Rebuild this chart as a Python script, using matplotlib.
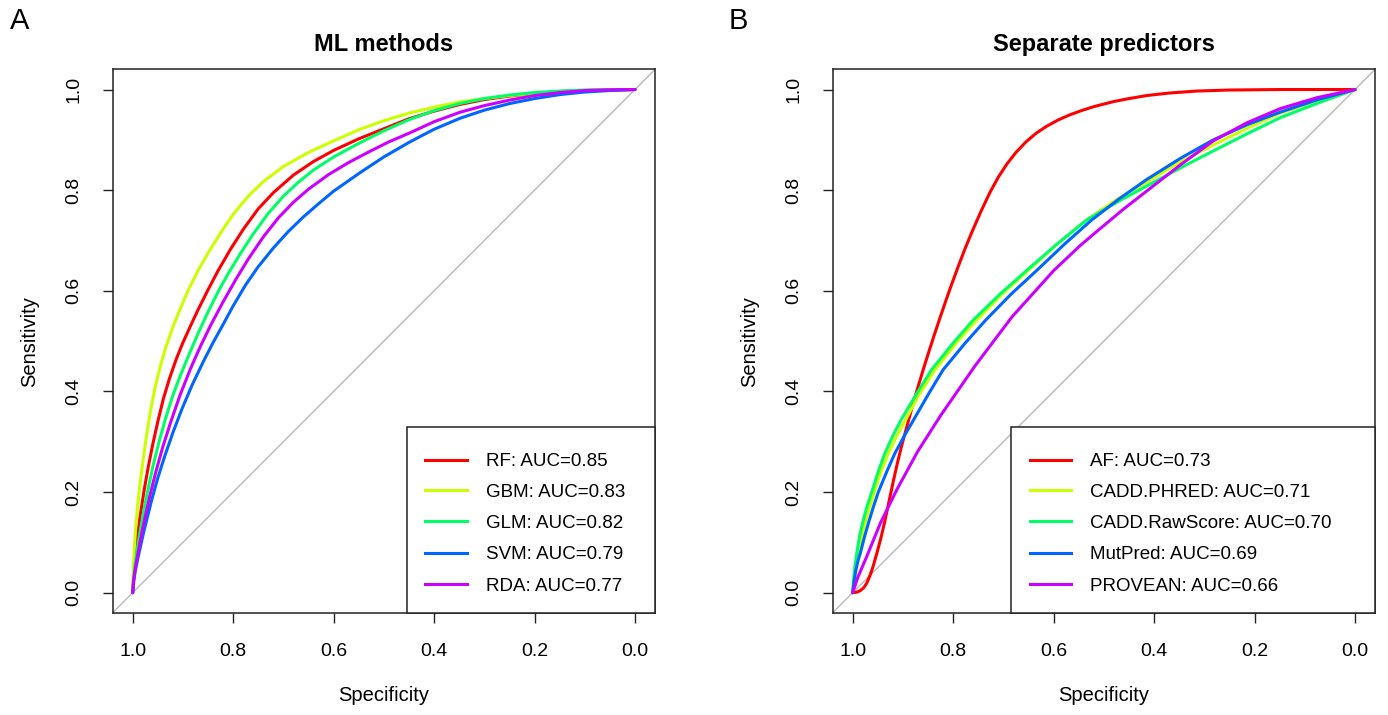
import matplotlib
matplotlib.use("Agg")
import matplotlib.pyplot as plt
import numpy as np
from matplotlib.patches import Rectangle
from matplotlib.lines import Line2D

plt.rcParams["font.family"] = ["Liberation Sans", "DejaVu Sans"]

# curves as (1 - specificity, sensitivity)

# ---- panel A: ML methods ----
rf_fpr = [0, .002, .004, .007, .011, .016, .023, .031, .040, .050, .061, .073, .087, .100, .115,
          .130, .150, .170, .195, .220, .250, .280, .320, .360, .400, .450, .500, .550, .600,
          .650, .700, .750, .800, .850, .900, .950, 1.0]
rf_sens = [0, .035, .060, .090, .125, .160, .205, .250, .295, .340, .385, .425, .465, .497, .530,
           .562, .602, .640, .683, .722, .763, .795, .830, .857, .879, .902, .922, .942, .957,
           .970, .980, .987, .992, .996, .998, .999, 1.0]

gbm_fpr = [0, .001, .003, .006, .010, .015, .021, .028, .036, .045, .055, .066, .080, .095, .110,
           .130, .150, .175, .200, .230, .260, .300, .350, .400, .450, .500, .550, .600, .650,
           .700, .750, .800, .850, .900, .950, 1.0]
gbm_sens = [0, .040, .085, .130, .175, .220, .265, .315, .365, .410, .450, .488, .528, .565, .600,
            .640, .675, .715, .752, .788, .817, .847, .875, .898, .920, .938, .953, .965, .975,
            .982, .988, .992, .995, .998, .999, 1.0]

glm_fpr = [0, .002, .005, .010, .016, .022, .030, .040, .052, .065, .080, .095, .112, .130, .150,
           .170, .190, .215, .240, .270, .300, .330, .360, .400, .450, .500, .550, .600, .650,
           .700, .750, .800, .850, .900, 1.0]
glm_sens = [0, .030, .058, .092, .128, .162, .203, .250, .298, .345, .392, .432, .473, .515, .558,
            .598, .634, .675, .713, .754, .788, .816, .840, .866, .893, .918, .940, .958, .972,
            .982, .989, .994, .997, .999, 1.0]

svm_fpr = [0, .002, .005, .009, .014, .020, .028, .038, .050, .064, .080, .098, .118, .140, .160,
           .180, .200, .225, .250, .280, .310, .340, .370, .400, .453, .500, .552, .600, .652,
           .700, .750, .800, .851, .900, .950, 1.0]
svm_sens = [0, .022, .042, .062, .085, .112, .145, .185, .228, .272, .318, .365, .412, .458, .497,
            .533, .570, .612, .648, .685, .718, .747, .773, .798, .835, .866, .896, .921, .943,
            .959, .972, .982, .990, .995, .998, 1.0]

rda_fpr = [0, .002, .005, .010, .016, .024, .034, .046, .060, .076, .094, .115, .135, .156, .180,
           .205, .230, .260, .290, .320, .350, .390, .430, .470, .510, .552, .600, .652, .700,
           .750, .800, .851, .900, .950, 1.0]
rda_sens = [0, .025, .048, .076, .108, .147, .192, .240, .290, .340, .392, .445, .490, .533, .578,
            .622, .663, .707, .745, .776, .802, .831, .855, .876, .896, .914, .936, .955, .968,
            .979, .988, .994, .998, .9995, 1.0]

ml_names = ["RF", "GBM", "GLM", "SVM", "RDA"]
ml_auc = [0.85, 0.83, 0.82, 0.79, 0.77]

# ---- panel B: separate predictors ----
af_fpr = [0, .008, .015, .022, .028, .034, .040, .048, .056, .064, .072, .081, .090, .098, .110,
          .120, .130, .140, .151, .162, .172, .185, .197, .210, .223, .237, .255, .273, .290,
          .307, .325, .345, .365, .386, .410, .433, .455, .480, .519, .550, .585, .630, .685,
          .750, .850, 1.0]
af_sens = [0, .001, .004, .010, .019, .033, .050, .078, .108, .142, .180, .222, .262, .294, .338,
           .375, .409, .442, .477, .511, .541, .579, .613, .648, .682, .716, .757, .795, .826,
           .852, .875, .896, .913, .927, .940, .950, .958, .966, .976, .982, .988, .993, .997,
           .999, 1.0, 1.0]

phred_fpr = [0, .002, .005, .011, .018, .026, .043, .056, .071, .088, .105, .133, .164, .205,
             .247, .297, .350, .407, .466, .525, .585, .650, .718, .785, .851, .925, 1.0]
phred_sens = [0, .025, .050, .078, .113, .144, .200, .240, .277, .312, .343, .395, .443, .495,
              .542, .593, .641, .693, .741, .781, .816, .855, .890, .923, .953, .978, 1.0]

raw_fpr = [0, .002, .004, .008, .014, .021, .029, .038, .051, .064, .080, .096, .127, .157, .199,
           .240, .294, .347, .407, .466, .526, .585, .652, .718, .785, .851, .926, 1.0]
raw_sens = [0, .028, .048, .078, .114, .144, .173, .200, .241, .277, .312, .343, .395, .443, .495,
            .542, .594, .641, .693, .741, .776, .808, .844, .878, .912, .944, .973, 1.0]

mut_fpr = [0, .003, .007, .011, .015, .024, .033, .042, .051, .068, .084, .103, .121, .151, .180,
           .223, .265, .316, .367, .422, .476, .531, .585, .652, .718, .785, .851, .926, 1.0]
mut_sens = [0, .025, .048, .065, .078, .113, .144, .173, .200, .241, .277, .312, .343, .395, .443,
            .495, .542, .594, .641, .693, .741, .783, .821, .863, .900, .930, .955, .980, 1.0]

prov_fpr = [0, .010, .028, .055, .088, .129, .175, .243, .317, .400, .453, .492, .540, .585, .652,
            .718, .785, .851, .925, 1.0]
prov_sens = [0, .030, .072, .138, .205, .280, .352, .450, .548, .640, .690, .723, .763, .798, .850,
             .898, .934, .962, .984, 1.0]

sep_names = ["AF", "CADD.PHRED", "CADD.RawScore", "MutPred", "PROVEAN"]
sep_auc = [0.73, 0.71, 0.70, 0.69, 0.66]

# R rainbow(5)
colors = ["#FF0000", "#CCFF00", "#00FF66", "#0066FF", "#CC00FF"]
ticks = [1.0, 0.8, 0.6, 0.4, 0.2, 0.0]

W, H = 1388, 715
fig = plt.figure(figsize=(W / 100, H / 100), dpi=100)


def roc_panel(rect, title, curves, names, aucs, leg_left, line_x, text_x):
    ax = fig.add_axes(rect)
    ax.axline((1, 0), (0, 1), color="#bdbdbd", lw=1.1, zorder=1)
    for (fpr, se), c in zip(curves, colors):
        spec = 1 - np.asarray(fpr)
        ax.plot(spec, se, color=c, lw=2.2, zorder=2, solid_capstyle="round",
                solid_joinstyle="round")
    ax.set_xlim(1.04, -0.04)
    ax.set_ylim(-0.04, 1.04)
    ax.set_xticks(ticks)
    ax.set_yticks(ticks)
    ax.set_xticklabels([f"{t:.1f}" for t in ticks])
    ax.set_yticklabels([f"{t:.1f}" for t in ticks], rotation=90, va="center")
    ax.tick_params(length=7, width=1.0, pad=15, labelsize=14, color="#222222")
    for s in ax.spines.values():
        s.set_linewidth(1.1)
        s.set_color("#222222")
    ax.set_title(title, fontsize=17, fontweight="bold", pad=13)
    ax.set_xlabel("Specificity", fontsize=14.5)
    ax.set_ylabel("Sensitivity", fontsize=14.5)
    ax.xaxis.set_label_coords(0.5, -0.135)
    ax.yaxis.set_label_coords(-0.135, 0.5)

    # legend box in the bottom-right corner, R style
    ax.add_patch(Rectangle((leg_left, 0), 1 - leg_left, 0.3412, transform=ax.transAxes,
                           facecolor="white", edgecolor="#222222", lw=1.1,
                           zorder=5, clip_on=False))
    rows = [0.2821, 0.2254, 0.1682, 0.1104, 0.0526]
    for y, c, n, a in zip(rows, colors, names, aucs):
        ax.add_line(Line2D(line_x, [y, y], transform=ax.transAxes, color=c, lw=2.2, zorder=6))
        ax.text(text_x, y, f"{n}: AUC={a:.2f}", transform=ax.transAxes, fontsize=13.5,
                va="center_baseline", ha="left", zorder=6)
    return ax


roc_panel([112.6 / W, 102.2 / H, 542.5 / W, 543.4 / H], "ML methods",
          [(rf_fpr, rf_sens), (gbm_fpr, gbm_sens), (glm_fpr, glm_sens),
           (svm_fpr, svm_sens), (rda_fpr, rda_sens)],
          ml_names, ml_auc, 0.5434, [0.5764, 0.6525], 0.6883)

roc_panel([832.6 / W, 102.2 / H, 542.5 / W, 543.4 / H], "Separate predictors",
          [(af_fpr, af_sens), (phred_fpr, phred_sens), (raw_fpr, raw_sens),
           (mut_fpr, mut_sens), (prov_fpr, prov_sens)],
          sep_names, sep_auc, 0.3294, [0.3639, 0.4400], 0.4747)

fig.text(10 / W, 1 - 21 / H, "A", fontsize=21, va="center", ha="left")
fig.text(729 / W, 1 - 21 / H, "B", fontsize=21, va="center", ha="left")

fig.savefig("out.png", dpi=100)
